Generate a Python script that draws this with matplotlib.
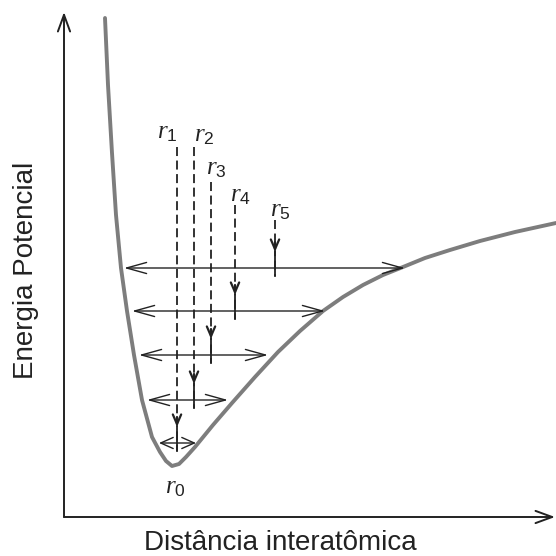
import matplotlib
matplotlib.use("Agg")
import matplotlib.pyplot as plt

plt.rcParams['font.family'] = ['Liberation Sans', 'DejaVu Sans']
plt.rcParams['mathtext.fontset'] = 'custom'
plt.rcParams['mathtext.it'] = 'Liberation Serif:italic'
plt.rcParams['mathtext.rm'] = 'Liberation Sans'

# potential energy curve (arbitrary units)
curve_r = [41, 44, 48, 52, 57, 63, 70, 78, 88, 96, 102, 108,
           115, 122, 131, 149, 168, 191, 214, 236, 259, 279, 299, 319,
           339, 361, 386, 416, 451, 492]
curve_E = [499, 432, 364, 302, 249, 206, 162, 117, 80, 65, 56, 51,
           53, 60, 70, 92, 114, 140, 165, 186, 206, 220, 232, 242,
           250, 259, 267, 276, 285, 294]

# vibration levels: energy, left / right turning points
level_E = [74, 117, 162, 206, 249]
level_left = [95, 83, 75, 68, 60]
level_right = [132, 164, 204, 261, 341]

# mean separations r1..r5 and r0
mean_r = [113, 130, 147, 171, 211]
mean_top = [370, 370, 335, 312, 297]
r_labels = ['$r_1$', '$r_2$', '$r_3$', '$r_4$', '$r_5$']
label_pos = [(103, 385), (140, 382), (152, 349), (176, 322), (216, 307)]
r0_label = '$r_0$'
r0_pos = (111, 30)

fig = plt.figure(figsize=(5.56, 5.56), dpi=100)
ax = fig.add_axes([64 / 556, 39 / 556, 492 / 556, 505 / 556])
ax.set_xlim(0, 492)
ax.set_ylim(0, 505)
ax.axis('off')

# axes with arrows
axis_style = dict(arrowstyle='->,head_length=0.6,head_width=0.22', lw=1.4,
                  color='#222222', shrinkA=0, shrinkB=0, mutation_scale=20)
ax.annotate('', xy=(0, 505), xytext=(0, 0), arrowprops=axis_style, annotation_clip=False)
ax.annotate('', xy=(491, 0), xytext=(0, 0), arrowprops=axis_style, annotation_clip=False)

# the curve
ax.plot(curve_r, curve_E, color='#7d7d7d', lw=2.8, solid_capstyle='round',
        solid_joinstyle='round', clip_on=False)

# horizontal double arrows
for i, (E, xl, xr) in enumerate(zip(level_E, level_left, level_right)):
    hl = 0.45 if i == 0 else 0.72
    ax.annotate('', xy=(xr, E), xytext=(xl, E),
                arrowprops=dict(arrowstyle='<->,head_length=%s,head_width=0.2' % hl,
                                lw=1.0, color='#222222', shrinkA=0, shrinkB=0,
                                mutation_scale=20))

# dashed verticals with small down arrows
for x, top, E, lab, pos in zip(mean_r, mean_top, level_E, r_labels, label_pos):
    ax.plot([x, x], [top, E - 8], color='#222222', lw=1.3,
            linestyle=(0, (5, 2.5)))
    tip = E + 16
    ax.annotate('', xy=(x, tip), xytext=(x, tip + 10),
                arrowprops=dict(arrowstyle='->,head_length=0.7,head_width=0.3',
                                lw=1.6, color='#222222', shrinkA=0, shrinkB=0,
                                mutation_scale=10))
    ax.plot([x, x], [tip, E - 8], color='#222222', lw=1.3)
    ax.text(pos[0], pos[1], lab, fontsize=18, ha='center', va='center', color='#222222')

ax.text(r0_pos[0], r0_pos[1], r0_label, fontsize=18, ha='center', va='center', color='#222222')

fig.text(26 / 556, 1 - 270 / 556, 'Energia Potencial', rotation=90, fontsize=20,
         ha='center', va='center', color='#222222')
fig.text(280 / 556, 1 - 543 / 556, 'Distância interatômica', fontsize=20,
         ha='center', va='center', color='#222222')

fig.savefig('out.png', dpi=100)
